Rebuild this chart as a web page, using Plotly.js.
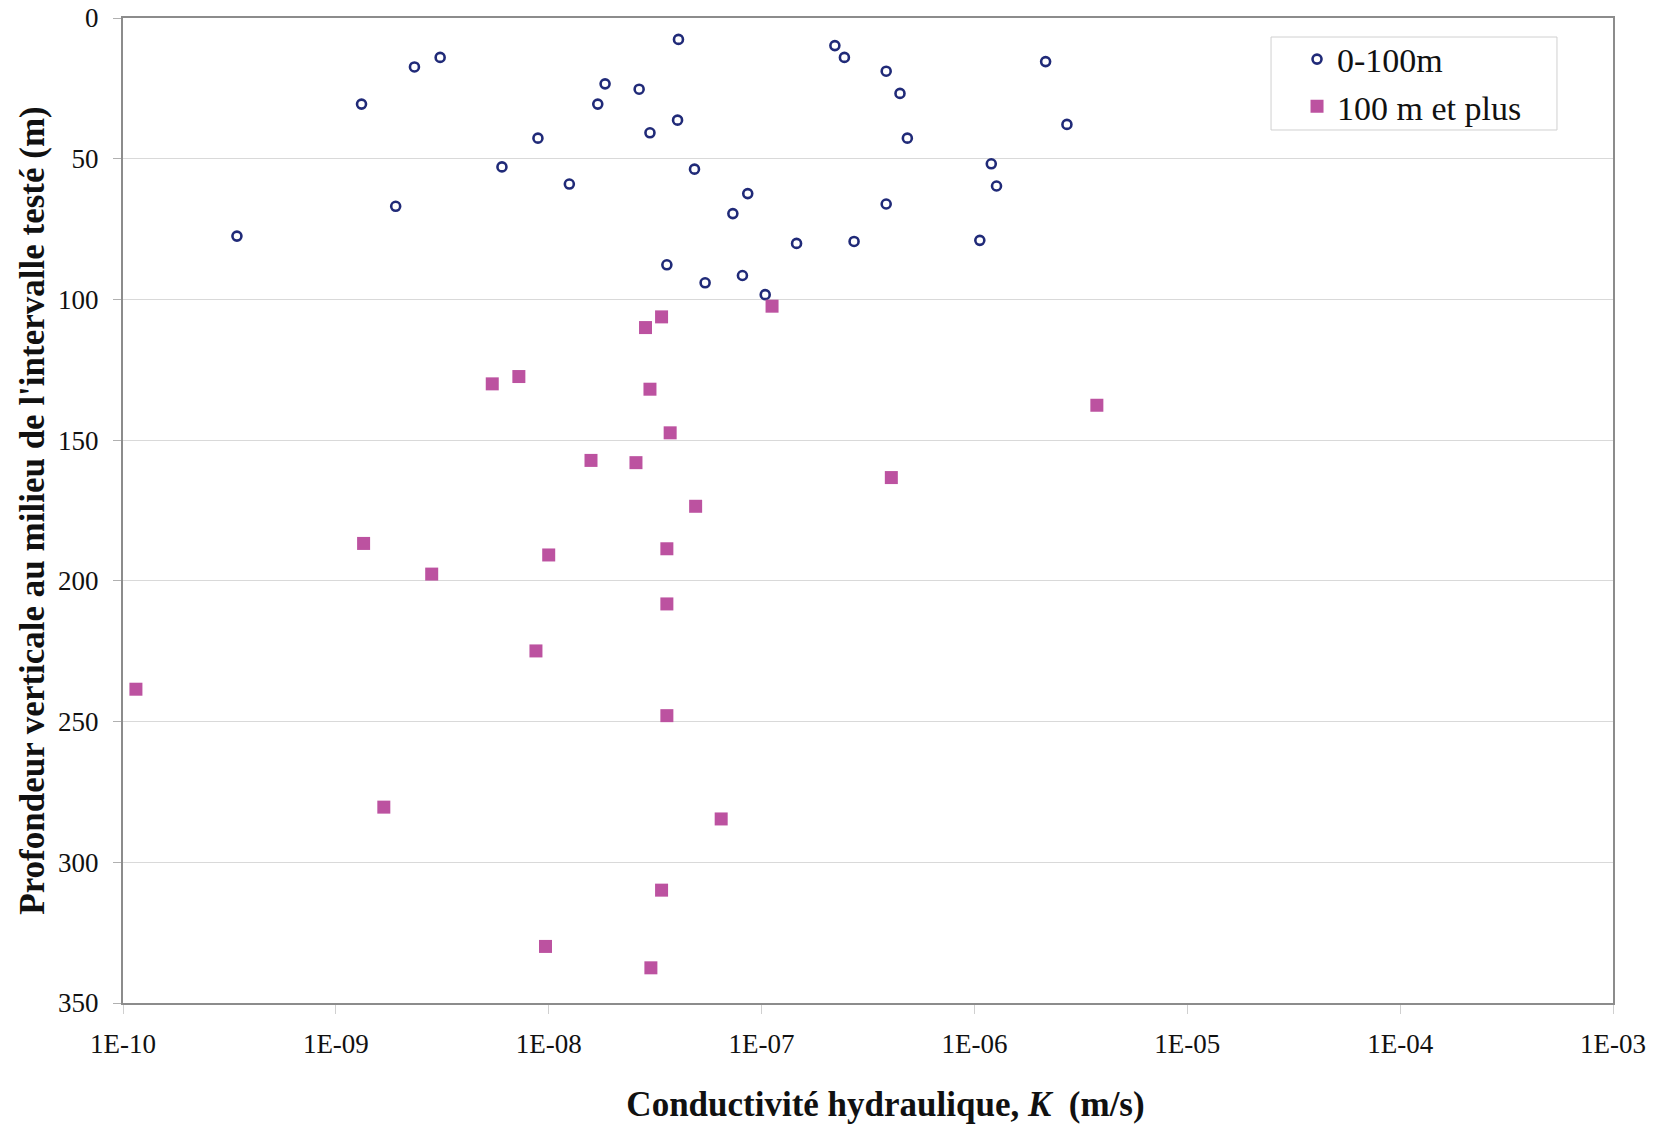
<!DOCTYPE html>
<html>
<head>
<meta charset="utf-8">
<script src="https://cdn.plot.ly/plotly-3.0.1.min.js"></script>
<style>html,body{margin:0;padding:0;background:#fff;}#chart{width:1668px;height:1124px;}</style>
</head>
<body>
<div id="chart"></div>
<script>
// Series 1: 0-100m
const shallowK = [3.43e-10, 1.32e-9, 1.91e-9, 2.34e-9, 3.09e-9, 6.03e-9, 8.9e-9, 1.25e-8, 1.70e-8, 1.84e-8,
  2.66e-8, 2.99e-8, 4.07e-8, 4.03e-8, 3.59e-8, 4.84e-8, 5.43e-8, 7.33e-8, 8.13e-8, 8.61e-8,
  1.04e-7, 1.46e-7, 2.21e-7, 2.45e-7, 2.72e-7, 3.85e-7, 3.85e-7, 4.47e-7, 4.84e-7, 1.06e-6,
  1.20e-6, 1.27e-6, 2.16e-6, 2.72e-6];
const shallowDepth = [77.5, 30.6, 66.9, 17.4, 14.0, 52.9, 42.7, 59.0, 30.6, 23.4,
  25.3, 40.8, 7.6, 36.3, 87.7, 53.7, 94.1, 69.5, 91.5, 62.4,
  98.3, 80.1, 9.8, 14.0, 79.4, 18.9, 66.1, 26.8, 42.7, 79.0,
  51.8, 59.7, 15.5, 37.8];
// Series 2: 100 m et plus
const deepK = [1.15e-10, 1.35e-9, 1.68e-9, 2.82e-9, 5.43e-9, 7.24e-9, 8.71e-9, 9.66e-9, 1.0e-8, 1.58e-8,
  2.57e-8, 2.85e-8, 2.99e-8, 3.02e-8, 3.39e-8, 3.39e-8, 3.59e-8, 3.59e-8, 3.59e-8, 3.72e-8,
  4.90e-8, 6.46e-8, 1.12e-7, 4.07e-7, 3.76e-6];
const deepDepth = [238.5, 186.7, 280.4, 197.6, 130.0, 127.4, 224.9, 329.9, 190.8, 157.2,
  158.0, 110.0, 131.9, 337.5, 106.2, 309.9, 188.6, 208.2, 247.9, 147.4,
  173.5, 284.6, 102.4, 163.3, 137.6];
const seriesNames = ["0-100m", "100 m et plus"];
const xTickVals = [1e-10, 1e-9, 1e-8, 1e-7, 1e-6, 1e-5, 1e-4, 1e-3];
const xTickText = ["1E-10", "1E-09", "1E-08", "1E-07", "1E-06", "1E-05", "1E-04", "1E-03"];
const yTickVals = [0, 50, 100, 150, 200, 250, 300, 350];

const serif = "Liberation Serif, Times New Roman, serif";

const traces = [
  {x: shallowK, y: shallowDepth, name: seriesNames[0], type: "scatter", mode: "markers",
   marker: {symbol: "circle-open", size: 9, color: "#202A78", line: {width: 2.6, color: "#202A78"}}},
  {x: deepK, y: deepDepth, name: seriesNames[1], type: "scatter", mode: "markers",
   marker: {symbol: "square", size: 13, color: "#BC52A0", line: {width: 0}}}
];

const layout = {
  width: 1668, height: 1124,
  margin: {l: 123, r: 55, t: 18, b: 121, pad: 0},
  paper_bgcolor: "#fff", plot_bgcolor: "#fff",
  showlegend: true,
  legend: {x: 0.7725, y: 0.9873, xanchor: "left", yanchor: "top",
    bgcolor: "rgba(0,0,0,0)", borderwidth: 0,
    font: {family: serif, size: 34, color: "#111"}, indentation: 23, itemwidth: 30, tracegroupgap: 0},
  shapes: [{type: "rect", xref: "paper", yref: "paper", x0: 0.7705, x1: 0.9624, y0: 0.8863, y1: 0.9807,
    line: {color: "#d0d0d0", width: 1}, fillcolor: "#fff", layer: "above"}],
  xaxis: {type: "log", range: [-10, -3], tickmode: "array", tickvals: xTickVals, ticktext: xTickText,
    showgrid: false, zeroline: false, showline: true, linecolor: "#8c8c8c", linewidth: 2, mirror: true,
    ticks: "outside", ticklen: 9, tickwidth: 1, tickcolor: "#d0d0d0",
    tickfont: {family: serif, size: 27, color: "#111"}, ticklabelstandoff: 7,
    title: {text: "&nbsp;&nbsp;&nbsp;&nbsp;Conductivité hydraulique, <i>K</i>  (m/s)", font: {family: serif, size: 35, color: "#111", weight: "bold"}, standoff: 33}},
  yaxis: {range: [350, 0], tickmode: "array", tickvals: yTickVals,
    showgrid: true, gridcolor: "#d9d9d9", gridwidth: 1, zeroline: false,
    showline: true, linecolor: "#8c8c8c", linewidth: 2, mirror: true,
    ticks: "outside", ticklen: 8, tickwidth: 1, tickcolor: "#b0b0b0",
    tickfont: {family: serif, size: 27, color: "#111"}, ticklabelstandoff: 9,
    title: {text: "Profondeur verticale au milieu de l'intervalle testé (m)", font: {family: serif, size: 35, color: "#111", weight: "bold"}, standoff: 3}}
};

Plotly.newPlot("chart", traces, layout, {staticPlot: true, displayModeBar: false});
</script>
</body>
</html>
